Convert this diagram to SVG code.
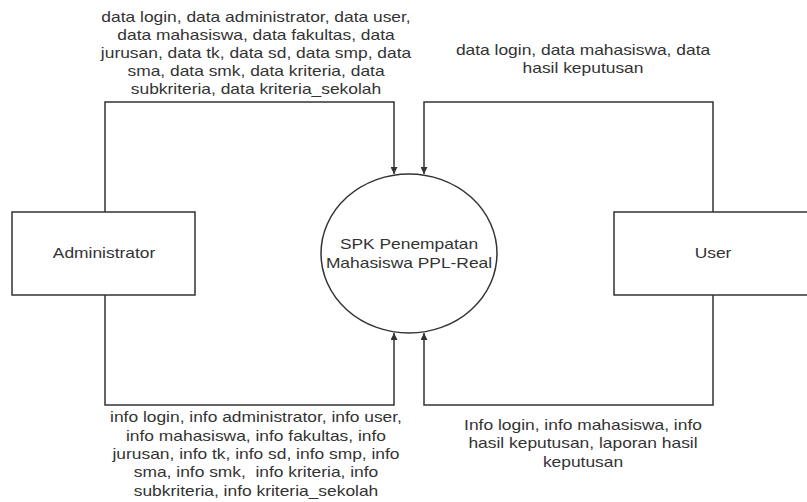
<svg xmlns="http://www.w3.org/2000/svg" width="807" height="502" viewBox="0 0 807 502">
<style>
.box{fill:#fff;stroke:#333;stroke-width:1.5}
.ln{fill:none;stroke:#333;stroke-width:1.5}
text{font-family:"Liberation Sans",Arial,sans-serif;font-size:15px;fill:#333;text-anchor:middle}
</style>
<defs>
<marker id="arr" viewBox="0 0 10 10" refX="10" refY="5" markerWidth="7" markerHeight="7" markerUnits="userSpaceOnUse" orient="auto">
<path d="M0,0 L10,5 L0,10 z" fill="#333"/>
</marker>
</defs>
<rect width="807" height="502" fill="#fff"/>
<g id="connectors">
<path class="ln" d="M105,212 V102 H394 V174" marker-end="url(#arr)"/>
<path class="ln" d="M713,212 V102 H424 V174" marker-end="url(#arr)"/>
<path class="ln" d="M105,295 V405 H394 V333" marker-end="url(#arr)"/>
<path class="ln" d="M713,295 V405 H424 V333" marker-end="url(#arr)"/>
<text transform="translate(256,22) scale(1.16,1)">data login, data administrator, data user,</text>
<text transform="translate(256,40) scale(1.16,1)">data mahasiswa, data fakultas, data</text>
<text transform="translate(256,58) scale(1.16,1)">jurusan, data tk, data sd, data smp, data</text>
<text transform="translate(256,76) scale(1.16,1)">sma, data smk, data kriteria, data</text>
<text transform="translate(256,94) scale(1.16,1)">subkriteria, data kriteria_sekolah</text>
<text transform="translate(583,55) scale(1.16,1)">data login, data mahasiswa, data</text>
<text transform="translate(583,73) scale(1.16,1)">hasil keputusan</text>
<text transform="translate(256,422) scale(1.16,1)">info login, info administrator, info user,</text>
<text transform="translate(256,441) scale(1.16,1)">info mahasiswa, info fakultas, info</text>
<text transform="translate(256,459) scale(1.16,1)">jurusan, info tk, info sd, info smp, info</text>
<text transform="translate(256,477) scale(1.16,1)" xml:space="preserve">sma, info smk,  info kriteria, info</text>
<text transform="translate(256,496) scale(1.16,1)">subkriteria, info kriteria_sekolah</text>
<text transform="translate(583,430) scale(1.16,1)">Info login, info mahasiswa, info</text>
<text transform="translate(583,448) scale(1.16,1)">hasil keputusan, laporan hasil</text>
<text transform="translate(583,467) scale(1.16,1)">keputusan</text>
</g>
<g id="administrator">
<rect class="box" x="12" y="212" width="183" height="83"/>
<text transform="translate(104,258) scale(1.16,1)">Administrator</text>
</g>
<g id="user">
<rect class="box" x="614" y="212" width="200" height="83"/>
<text transform="translate(713,258) scale(1.16,1)">User</text>
</g>
<g id="process">
<ellipse class="box" cx="409" cy="253.5" rx="88" ry="79.5"/>
<text transform="translate(409,249) scale(1.16,1)">SPK Penempatan</text>
<text transform="translate(409,268) scale(1.16,1)">Mahasiswa PPL-Real</text>
</g>
</svg>
